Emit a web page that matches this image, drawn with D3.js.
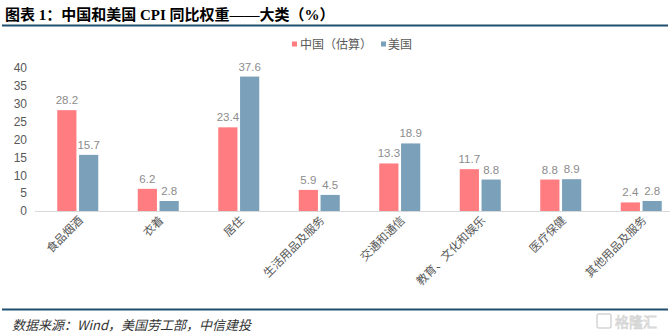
<!DOCTYPE html>
<html><head><meta charset="utf-8">
<script src="https://cdn.jsdelivr.net/npm/d3@7"></script>
<style>body{margin:0;background:#fff}svg{display:block}</style>
</head><body>
<svg id="c" width="670" height="336"></svg>
<script>
const categories = ["食品烟酒","衣着","居住","生活用品及服务","交通和通信","教育、文化和娱乐","医疗保健","其他用品及服务"];
const chinaValues = [28.2, 6.2, 23.4, 5.9, 13.3, 11.7, 8.8, 2.4];
const usValues = [15.7, 2.8, 37.6, 4.5, 18.9, 8.8, 8.9, 2.8];
const seriesNames = ["中国（估算）", "美国"];
const yTicks = [0, 5, 10, 15, 20, 25, 30, 35, 40];
const titleText = "图表 1：中国和美国 CPI 同比权重——大类（%）";
const sourceText = "数据来源：Wind，美国劳工部，中信建投";

const colors = ["#FF7C80", "#7BA0BA"];
const svg = d3.select("#c");
const cjk = "'Noto Sans CJK SC', 'Liberation Sans', sans-serif";
const num = "'Liberation Sans Narrow', 'Liberation Sans', sans-serif";

// title
svg.append("text").attr("x", 5).attr("y", 20).text(titleText)
  .attr("font-family", "'Liberation Serif','Noto Sans CJK SC',serif").attr("font-weight", "bold")
  .attr("font-size", 15).attr("fill", "#000");
svg.append("line").attr("x1", 2).attr("x2", 668).attr("y1", 25.5).attr("y2", 25.5)
  .attr("stroke", "#1F4E6E").attr("stroke-width", 2);

// scales
const x = d3.scaleBand().domain(categories).range([37.5, 681.5]);
const y = d3.scaleLinear().domain([0, 40]).range([211, 68]);
const inner = d3.scaleBand().domain([0, 1]).range([0, 41]).paddingInner(0.12);

// y axis labels
const yAxis = d3.axisLeft(y).tickValues(yTicks).tickSize(0).tickPadding(0);
const ya = svg.append("g").attr("transform", "translate(27,0)").call(yAxis);
ya.select(".domain").remove();
ya.selectAll("text").attr("font-family", num).attr("font-size", 12).attr("fill", "#595959");

// x axis line
svg.append("line").attr("x1", 35).attr("x2", 670).attr("y1", 211.5).attr("y2", 211.5)
  .attr("stroke", "#D9D9D9").attr("stroke-width", 1);

// bars
const series = [chinaValues, usValues];
series.forEach((vals, si) => {
  const g = svg.append("g");
  const offset = (x.bandwidth() - 41) / 2;
  g.selectAll("rect").data(vals).join("rect")
    .attr("x", (d, i) => x(categories[i]) + offset + inner(si))
    .attr("width", inner.bandwidth())
    .attr("y", d => y(d))
    .attr("height", d => y(0) - y(d))
    .attr("fill", colors[si]);
  g.selectAll("text").data(vals).join("text")
    .attr("x", (d, i) => x(categories[i]) + offset + inner(si) + inner.bandwidth() / 2)
    .attr("y", d => y(d) - 6)
    .attr("text-anchor", "middle")
    .attr("font-family", num).attr("font-size", 11.5).attr("fill", "#8C8C8C")
    .text(d => d.toFixed(1));
});

// category labels
svg.append("g").selectAll("text").data(categories).join("text")
  .attr("transform", d => `translate(${x(d) + x.bandwidth() / 2 + 6},${221}) rotate(-45)`)
  .attr("text-anchor", "end")
  .attr("font-family", cjk).attr("font-size", 11.5).attr("fill", "#595959")
  .text(d => d);

// legend
const leg = svg.append("g");
[[292, 300], [381, 388]].forEach((p, i) => {
  leg.append("rect").attr("x", p[0]).attr("y", 41.5).attr("width", 5).attr("height", 5).attr("fill", colors[i]);
  leg.append("text").attr("x", p[1]).attr("y", 49).text(seriesNames[i])
    .attr("font-family", cjk).attr("font-size", 12).attr("fill", "#595959");
});

// bottom line and source
svg.append("line").attr("x1", 2).attr("x2", 668).attr("y1", 309.5).attr("y2", 309.5)
  .attr("stroke", "#1F4E6E").attr("stroke-width", 2);
svg.append("text").attr("x", 12).attr("y", 330).text(sourceText)
  .attr("font-family", cjk).attr("font-style", "italic").attr("font-size", 13).attr("fill", "#333");

// watermark
const wm = svg.append("g").attr("opacity", 0.35);
wm.append("rect").attr("x", 597).attr("y", 314).attr("width", 14).attr("height", 14).attr("rx", 2)
  .attr("fill", "none").attr("stroke", "#888").attr("stroke-width", 1.5);
wm.append("text").attr("x", 615).attr("y", 327).text("格隆汇")
  .attr("font-family", cjk).attr("font-size", 14).attr("fill", "#fff").attr("stroke", "#888").attr("stroke-width", 0.8);
</script>
</body></html>
